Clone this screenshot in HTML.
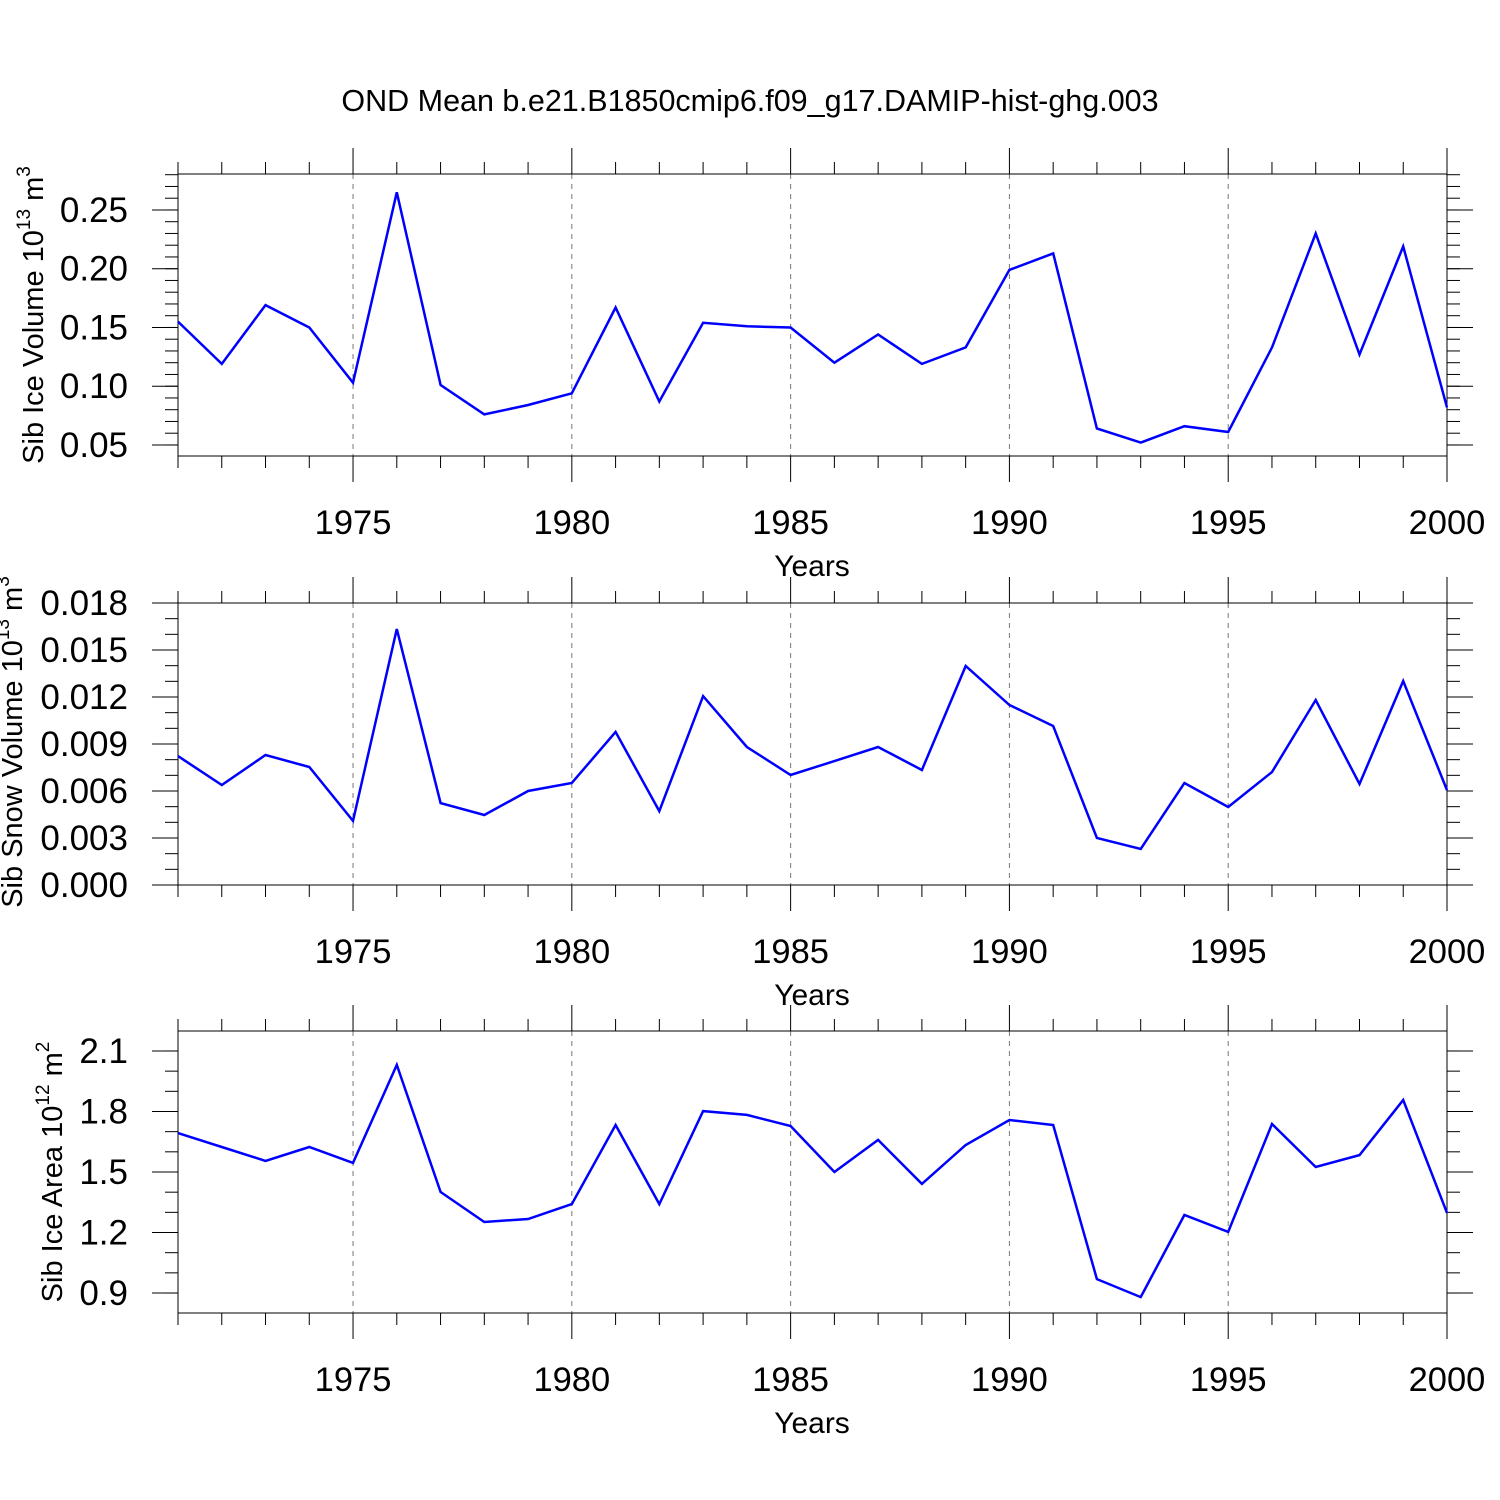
<!DOCTYPE html>
<html><head><meta charset="utf-8"><style>
html,body{margin:0;padding:0;background:#fff;}
svg{display:block;font-family:"Liberation Sans",Arial,sans-serif;}
</style></head><body>
<svg id="chart" width="1500" height="1500" viewBox="0 0 1500 1500" xmlns="http://www.w3.org/2000/svg">
<text x="750" y="111" font-size="30.5" text-anchor="middle">OND Mean b.e21.B1850cmip6.f09_g17.DAMIP-hist-ghg.003</text>
</svg>
<script>
const years = [1971,1972,1973,1974,1975,1976,1977,1978,1979,1980,1981,1982,1983,1984,1985,1986,1987,1988,1989,1990,1991,1992,1993,1994,1995,1996,1997,1998,1999,2000];
const iceVolume = [0.155,0.119,0.169,0.150,0.103,0.265,0.101,0.076,0.084,0.094,0.167,0.087,0.154,0.151,0.150,0.120,0.144,0.119,0.133,0.199,0.213,0.064,0.052,0.066,0.061,0.133,0.230,0.127,0.219,0.082];
const snowVolume = [0.00823,0.00638,0.0083,0.00753,0.00409,0.01634,0.00523,0.00447,0.0060,0.00651,0.00977,0.00472,0.01206,0.00881,0.00702,0.00791,0.00881,0.00734,0.01398,0.01149,0.01015,0.0030,0.0023,0.00651,0.00498,0.00721,0.01181,0.00645,0.01302,0.00606];
const iceArea = [1.693,1.624,1.555,1.624,1.545,2.031,1.401,1.252,1.267,1.341,1.733,1.341,1.802,1.783,1.728,1.500,1.659,1.441,1.634,1.758,1.733,0.969,0.880,1.287,1.203,1.738,1.525,1.584,1.857,1.297];
const xTickLabels = [1975,1980,1985,1990,1995,2000];
const iceVolTicks = ["0.05","0.10","0.15","0.20","0.25"];
const snowTicks = ["0.000","0.003","0.006","0.009","0.012","0.015","0.018"];
const areaTicks = ["0.9","1.2","1.5","1.8","2.1"];

const NS='http://www.w3.org/2000/svg';
const svg=document.getElementById('chart');
function mk(tag,attrs,parent){const e=document.createElementNS(NS,tag);for(const k in attrs)e.setAttribute(k,attrs[k]);(parent||svg).appendChild(e);return e;}

const X0=178,X1=1447,YR0=1971,YR1=2000;
function xs(y){return X0+(y-YR0)/(YR1-YR0)*(X1-X0);}

function panel(cfg){
  const g=mk('g',{});
  
  
  const T=cfg.top,B=cfg.top+282;
  const ys=v=>B-(v-cfg.ymin)/(cfg.ymax-cfg.ymin)*(B-T);
  xTickLabels.forEach(y=>{ if(y<YR1){const l=mk('line',{x1:xs(y),x2:xs(y),y1:T,y2:B,stroke:'#777','stroke-width':1,'stroke-dasharray':'5,5'},g);
    
    }});
  for(let y=YR0;y<=YR1;y++){
    const maj=y%5===0;
    mk('line',{x1:xs(y),x2:xs(y),y1:T-(maj?26:12),y2:T,stroke:'#000','stroke-width':1},g);
    mk('line',{x1:xs(y),x2:xs(y),y1:B,y2:B+(maj?26:12),stroke:'#000','stroke-width':1},g);
  }
  xTickLabels.forEach(y=>{const t=mk('text',{x:xs(y),y:B+78,'font-size':34.5,'text-anchor':'middle'},g);t.textContent=y;
    
    });
  const xt=mk('text',{x:812,y:B+120,'font-size':30,'text-anchor':'middle'},g);xt.textContent='Years';
  
  
  for(let v=cfg.minorStart;v<=cfg.ymax+1e-9;v+=cfg.minorStep){
    if(v<cfg.ymin-1e-9)continue;
    const yy=ys(v);
    mk('line',{x1:X0-13,x2:X0,y1:yy,y2:yy,stroke:'#000','stroke-width':1},g);
    mk('line',{x1:X1,x2:X1+13,y1:yy,y2:yy,stroke:'#000','stroke-width':1},g);
  }
  cfg.ticks.forEach(s=>{const v=parseFloat(s),yy=ys(v);
    mk('line',{x1:X0-26,x2:X0,y1:yy,y2:yy,stroke:'#000','stroke-width':1},g);
    mk('line',{x1:X1,x2:X1+26,y1:yy,y2:yy,stroke:'#000','stroke-width':1},g);
    const t=mk('text',{x:128,y:yy+12,'font-size':35,'text-anchor':'end'},g);t.textContent=s;
    
    });
  const r=mk('rect',{x:X0,y:T,width:X1-X0,height:B-T,fill:'none',stroke:'#000','stroke-width':1},g);
  
  
  const pts=cfg.data.map((v,i)=>xs(years[i]).toFixed(1)+','+ys(v).toFixed(1)).join(' ');
  const pl=mk('polyline',{points:pts,fill:'none',stroke:'#0000ff','stroke-width':2.5,'stroke-linejoin':'miter'},g);
  
  
  const yt=mk('text',{x:0,y:0,'font-size':29,'text-anchor':'middle',transform:`translate(${cfg.titleX},${cfg.titleY}) rotate(-90)`},g);
  yt.innerHTML=cfg.title;
  
  
}
panel({name:'ice-volume-panel',top:174,ymin:0.0406,ymax:0.2806,ticks:iceVolTicks,minorStart:0.04,minorStep:0.01,data:iceVolume,
  title:'Sib Ice Volume 10<tspan dy="-13" font-size="19">13</tspan><tspan dy="13"> m</tspan><tspan dy="-13" font-size="19">3</tspan>',titleX:43,titleY:315});
panel({name:'snow-volume-panel',top:603,ymin:0,ymax:0.018,ticks:snowTicks,minorStart:0,minorStep:0.001,data:snowVolume,
  title:'Sib Snow Volume 10<tspan dy="-13" font-size="19">13</tspan><tspan dy="13"> m</tspan><tspan dy="-13" font-size="19">3</tspan>',titleX:22,titleY:742});
panel({name:'ice-area-panel',top:1031,ymin:0.801,ymax:2.199,ticks:areaTicks,minorStart:0.9,minorStep:0.1,data:iceArea,
  title:'Sib Ice Area 10<tspan dy="-13" font-size="19">12</tspan><tspan dy="13"> m</tspan><tspan dy="-13" font-size="19">2</tspan>',titleX:62,titleY:1172});
</script>
</body></html>
